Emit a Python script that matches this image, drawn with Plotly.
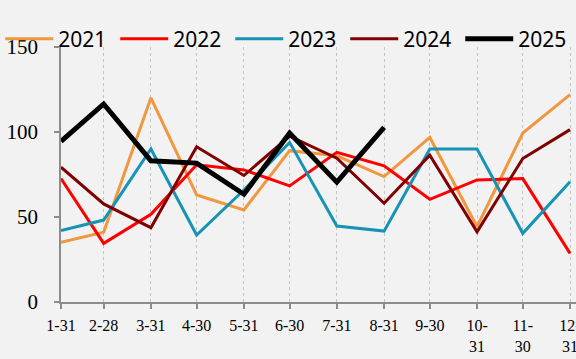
import plotly.graph_objects as go

months = ["1-31", "2-28", "3-31", "4-30", "5-31", "6-30", "7-31", "8-31", "9-30", "10-31", "11-30", "12-31"]
tick_text = ["1-31", "2-28", "3-31", "4-30", "5-31", "6-30", "7-31", "8-31", "9-30", "10-<br>31", "11-<br>30", "12-<br>31"]

s2021 = [35.1, 41.1, 120.1, 63.0, 54.1, 89.0, 86.0, 73.8, 96.8, 44.3, 99.4, 122.0]
s2022 = [72.6, 34.5, 51.6, 80.7, 77.7, 68.3, 88.0, 80.1, 60.4, 71.8, 72.6, 28.6]
s2023 = [42.1, 48.2, 90.0, 39.4, 65.9, 93.9, 44.7, 41.7, 90.0, 90.0, 40.4, 70.8]
s2024 = [79.3, 57.7, 43.7, 91.3, 74.4, 97.5, 84.6, 58.1, 86.4, 41.3, 84.4, 101.4]
s2025 = [94.5, 116.5, 83.1, 81.7, 63.4, 99.4, 70.5, 102.7]

y_ticks = [0, 50, 100, 150]

def to_date(m):
    mo, d = m.split("-")
    return f"2025-{int(mo):02d}-{int(d):02d}"

dates = [to_date(m) for m in months]

series = [
    ("2021", s2021, "#F0973F", 3),
    ("2022", s2022, "#FF0000", 3),
    ("2023", s2023, "#1693B5", 3),
    ("2024", s2024, "#800000", 3),
    ("2025", s2025, "#000000", 5),
]

fig = go.Figure()
for name, vals, color, w in series:
    fig.add_trace(go.Scatter(
        x=dates[:len(vals)], y=vals, name=name, mode="lines",
        line=dict(color=color, width=w),
    ))

bg = "#F2F2F2"
serif = "Times New Roman, Liberation Serif, serif"
fig.update_layout(
    width=576, height=359,
    paper_bgcolor=bg, plot_bgcolor=bg,
    margin=dict(l=61, r=0, t=47, b=57, autoexpand=False),
    showlegend=True,
    legend=dict(
        orientation="h", x=-0.118, xanchor="left", y=1.031, yanchor="middle",
        font=dict(family="Noto Sans", size=21, color="#000000"),
        itemwidth=48, entrywidth=52, entrywidthmode="pixels",
        bgcolor="rgba(0,0,0,0)", traceorder="normal",
    ),
    xaxis=dict(
        type="date", automargin=False,
        range=["2025-01-31", "2026-01-03 22:00"],
        tickmode="array", tickvals=dates, ticktext=tick_text,
        showgrid=True, gridcolor="#C4C4C4", griddash="dot", gridwidth=1,
        showline=True, linecolor="#8C8C8C", linewidth=1.5,
        ticks="outside", ticklen=5, tickcolor="#8C8C8C", tickwidth=1.5,
        tickfont=dict(family=serif, size=16, color="#000000"),
        ticklabeloverflow="allow", ticklabelstandoff=3,
        zeroline=False,
    ),
    yaxis=dict(
        range=[0, 150], automargin=False,
        tickmode="array", tickvals=y_ticks,
        showgrid=False, zeroline=False,
        showline=True, linecolor="#8C8C8C", linewidth=1.5,
        ticks="outside", ticklen=5, tickcolor="#8C8C8C", tickwidth=1.5,
        tickfont=dict(family=serif, size=21, color="#000000"),
        ticklabelstandoff=12,
    ),
)

fig.write_html("out.html", config={"displayModeBar": False},
               post_script="document.body.style.margin='0';")
